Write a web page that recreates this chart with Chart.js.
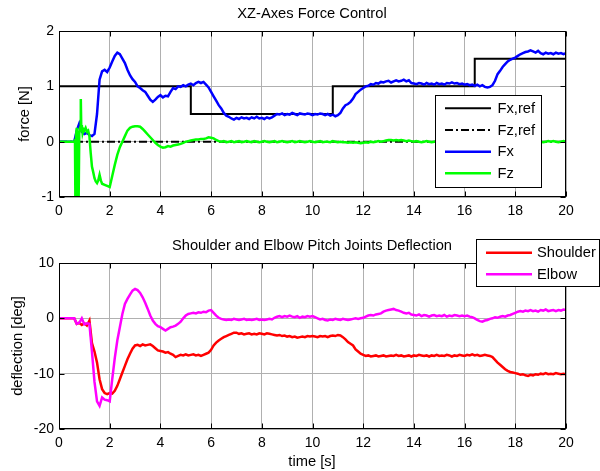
<!DOCTYPE html>
<html><head><meta charset="utf-8">
<script src="https://cdn.jsdelivr.net/npm/chart.js@4"></script>
<style>
html,body{margin:0;padding:0;background:#fff;}
#wrap{position:relative;width:600px;height:471px;overflow:hidden;}
canvas{position:absolute;left:0;}
</style></head><body>
<div id="wrap">
<canvas id="c1" width="600" height="235" style="top:0px"></canvas>
<canvas id="c2" width="600" height="236" style="top:235px"></canvas>
</div>
<script>
// ---------- data ----------
// sampling clock 0.0 ... 20.0 s (0.1 s)
const time = Array.from({length:201}, (_, i) => i / 10);

// reference steps [t, value]
const fxRefT = [0, 5.2, 5.2, 10.8, 10.8, 16.4, 16.4, 20];
const fxRefV = [1, 1, 0.5, 0.5, 1, 1, 1.5, 1.5];
const fzRefT = [0, 20];
const fzRefV = [0, 0];

const fx = [
 0,0,0,0,0,0,0,0.2,0.33,0.18,
 0.14,0.16,0.12,0.1,0.14,0.5,1.12,1.27,1.3,1.26,
 1.34,1.45,1.55,1.61,1.58,1.5,1.42,1.3,1.2,1.13,
 1.08,1.0,0.97,0.93,0.9,0.83,0.76,0.72,0.76,0.81,
 0.84,0.8,0.83,0.82,0.9,0.97,0.95,1.0,0.99,1.02,
 1.0,1.03,1.05,1.02,1.06,1.08,1.06,1.08,1.03,0.98,
 0.9,0.82,0.74,0.66,0.6,0.52,0.47,0.45,0.42,0.4,
 0.43,0.41,0.44,0.42,0.43,0.41,0.44,0.42,0.45,0.42,
 0.43,0.41,0.44,0.42,0.44,0.47,0.5,0.49,0.51,0.48,
 0.5,0.49,0.52,0.5,0.48,0.51,0.5,0.49,0.51,0.5,
 0.48,0.5,0.49,0.51,0.5,0.48,0.5,0.47,0.49,0.46,
 0.48,0.52,0.6,0.66,0.68,0.72,0.78,0.86,0.9,0.94,
 0.97,1.0,1.01,1.04,1.03,1.06,1.05,1.08,1.07,1.09,
 1.1,1.07,1.09,1.11,1.09,1.1,1.12,1.09,1.11,1.06,
 1.05,1.04,1.06,1.05,1.03,1.06,1.04,1.05,1.03,1.06,
 1.04,1.05,1.03,1.06,1.05,1.07,1.05,1.06,1.04,1.05,
 1.03,1.04,1.02,1.03,1.01,1.03,1.0,1.02,0.99,0.98,
 0.99,1.02,1.1,1.22,1.28,1.35,1.4,1.45,1.48,1.5,
 1.52,1.55,1.58,1.6,1.62,1.63,1.65,1.63,1.61,1.64,
 1.6,1.58,1.61,1.59,1.6,1.58,1.61,1.59,1.6,1.58,
 1.6
];

// Fz: dense samples during the impact (0 - 2.0 s), then 0.1 s samples from 2.1 s
const fzEarlyT = [0,0.1,0.2,0.3,0.4,0.5,0.6,0.63,0.65,0.67,0.7,0.73,0.77,0.8,0.83,0.86,0.88,0.9,0.93,0.97,
 1.0,1.05,1.1,1.15,1.2,1.25,1.3,1.35,1.4,1.45,1.5,1.55,1.6,1.65,1.7,1.8,1.9,2.0];
const fzEarly = [0,0,0,0,0,0,0,0.05,-1.3,0.1,0.25,0.1,-1.3,0.15,0.25,0.77,0.2,0.3,0.15,0.22,
 0.2,0.25,0.18,0.2,0.1,-0.2,-0.45,-0.55,-0.66,-0.72,-0.75,-0.7,-0.6,-0.7,-0.76,-0.78,-0.8,-0.82];
const fzLate = [
 -0.62,-0.42,-0.24,-0.1,0.0,0.1,0.2,0.25,0.27,0.28,
 0.28,0.27,0.23,0.18,0.13,0.08,0.03,-0.02,-0.06,-0.09,
 -0.11,-0.1,-0.08,-0.09,-0.07,-0.06,-0.05,-0.04,-0.02,0.0,
 0.01,0.02,0.03,0.04,0.04,0.05,0.05,0.06,0.08,0.07,
 0.06,0.03,0.01,0.0,0.01,-0.01,0.0,0.01,-0.01,0.0,
 0.01,-0.01,0.0,0.01,0.0,-0.01,0.01,0.0,-0.01,0.0,
 0.01,0.0,-0.01,0.0,0.01,-0.01,0.0,0.01,0.0,-0.01,
 0.0,0.01,-0.01,0.0,0.01,0.0,-0.01,0.0,0.01,0.0,
 -0.01,0.0,0.01,-0.01,0.0,0.0,-0.01,0.01,0.0,-0.01,
 0.0,-0.01,-0.01,-0.02,-0.01,-0.02,-0.01,-0.02,-0.03,-0.02,
 -0.01,-0.02,0.0,-0.01,0.0,0.01,0.0,0.01,0.02,0.03,
 0.03,0.02,0.03,0.02,0.03,0.02,0.01,0.02,0.01,0.0,
 0.01,0.0,-0.01,0.0,0.01,0.0,-0.01,0.0,0.01,0.0,
 -0.01,0.0,0.01,0.0,-0.01,0.01,0.0,-0.01,0.0,0.01,
 0.0,-0.01,-0.01,-0.02,-0.03,-0.02,-0.01,0.0,-0.01,0.0,
 0.01,0.0,-0.01,0.0,0.01,0.0,-0.01,0.0,0.01,0.0,
 -0.01,0.0,0.01,0.0,-0.01,0.0,0.01,0.0,0.01,0.0,
 -0.01,0.0,0.01,0.0,0.01,0.0,-0.01,0.0,0.01,0.0
];

const shoulder = [
 0,0,0,0,0,0,0,-1.0,-0.8,-1.2,
 -0.9,-1.3,-0.4,-4.5,-6.0,-8.0,-11.0,-12.8,-13.5,-13.7,
 -13.5,-13.6,-13.1,-12.2,-11.0,-9.8,-8.6,-7.4,-6.4,-5.5,
 -4.9,-4.8,-5.0,-4.7,-4.9,-4.8,-4.7,-5.0,-5.4,-5.8,
 -5.9,-6.0,-6.2,-6.1,-6.4,-6.6,-7.0,-6.8,-6.6,-6.7,
 -6.5,-6.7,-6.6,-6.5,-6.7,-6.6,-6.8,-6.6,-6.4,-6.2,
 -5.7,-4.9,-4.4,-4.0,-3.7,-3.4,-3.2,-3.0,-2.8,-2.6,
 -2.6,-2.8,-2.7,-2.9,-2.8,-2.7,-2.9,-2.8,-2.9,-2.7,
 -2.8,-2.9,-2.7,-2.8,-2.9,-3.0,-3.1,-3.0,-3.2,-3.1,
 -3.3,-3.2,-3.4,-3.3,-3.5,-3.4,-3.3,-3.4,-3.2,-3.3,
 -3.2,-3.3,-3.4,-3.2,-3.3,-3.2,-3.4,-3.2,-3.1,-3.2,
 -3.0,-3.1,-3.4,-3.8,-4.3,-4.6,-4.9,-5.6,-6.0,-6.4,
 -6.6,-6.8,-6.7,-6.9,-6.8,-6.7,-6.9,-6.8,-6.7,-6.9,
 -6.8,-6.7,-6.8,-6.6,-6.8,-6.7,-6.9,-6.8,-6.7,-6.9,
 -6.7,-6.8,-6.6,-6.7,-6.8,-6.7,-6.9,-6.7,-6.8,-6.6,
 -6.8,-6.7,-6.8,-6.6,-6.7,-6.9,-6.7,-6.8,-6.6,-6.7,
 -6.8,-6.6,-6.7,-6.5,-6.7,-6.6,-6.8,-6.7,-6.6,-6.7,
 -6.8,-7.0,-7.5,-8.0,-8.4,-8.8,-9.2,-9.5,-9.7,-9.8,
 -9.9,-10.0,-10.2,-10.1,-10.3,-10.4,-10.2,-10.3,-10.1,-10.2,
 -10.0,-10.1,-9.9,-10.1,-10.0,-10.1,-9.9,-10.0,-10.1,-10.0,
 -10.1
];

const elbow = [
 0,0,0,0,0,0,0,-1.0,-0.8,0.0,
 -1.1,-0.9,-1.0,-6.0,-11.5,-15.0,-15.8,-14.3,-14.7,-14.8,
 -15.0,-11.0,-7.2,-4.0,-1.6,0.8,2.6,3.5,4.3,5.0,
 5.3,5.1,4.6,3.8,2.8,1.7,0.5,-0.4,-1.0,-1.4,
 -1.6,-1.9,-2.2,-1.9,-1.6,-1.5,-1.3,-1.0,-0.6,0.0,
 0.5,0.8,0.9,1.0,0.9,1.1,1.0,1.2,1.1,1.4,
 1.5,1.0,0.5,0.1,-0.1,-0.2,-0.3,-0.2,-0.3,-0.1,
 -0.2,-0.3,-0.2,-0.1,-0.3,-0.2,-0.3,-0.2,-0.1,-0.3,
 -0.2,-0.3,-0.2,-0.1,-0.2,0.1,0.3,0.4,0.2,0.4,
 0.3,0.5,0.3,0.2,0.4,0.1,0.3,0.2,0.4,0.3,
 0.4,0.2,0.0,-0.2,-0.1,-0.3,-0.4,-0.2,-0.3,-0.1,
 -0.2,-0.3,-0.1,-0.2,-0.3,-0.2,-0.1,0.0,-0.1,0.0,
 0.1,0.3,0.5,0.6,0.5,0.7,0.8,0.9,1.2,1.4,
 1.5,1.6,1.7,1.5,1.4,1.2,1.0,0.9,1.0,0.7,
 0.6,0.5,0.7,0.4,0.6,0.5,0.3,0.5,0.6,0.4,
 0.5,0.4,0.6,0.3,0.5,0.4,0.6,0.5,0.4,0.5,
 0.4,0.5,0.3,0.2,0.0,-0.3,-0.5,-0.6,-0.4,-0.3,
 -0.1,0.0,0.2,0.1,0.3,0.4,0.3,0.5,0.6,0.8,
 1.0,1.2,1.3,1.2,1.4,1.3,1.5,1.3,1.4,1.2,
 1.5,1.4,1.6,1.3,1.4,1.5,1.3,1.5,1.4,1.6,
 1.5
];

// ---------- helpers ----------
const FONT = "'Liberation Sans', Arial, Helvetica, sans-serif";
const zip = (xs, ys) => ys.map((v, i) => ({x: xs[i], y: v}));
const fzT = fzEarlyT.concat(time.slice(21));
const fz = fzEarly.concat(fzLate);

function decor(cfg){
  return {
    id: 'decor',
    afterDraw(chart){
      const ctx = chart.ctx, a = chart.chartArea, xs = chart.scales.x, ys = chart.scales.y;
      ctx.save();
      ctx.strokeStyle = '#000'; ctx.lineWidth = 1; ctx.setLineDash([]);
      const L = Math.round(a.left) + 0.5, R = Math.round(a.right) - 0.5;
      const T = Math.round(a.top) + 0.5, B = Math.round(a.bottom) - 0.5;
      ctx.strokeRect(L, T, R - L, B - T);
      ctx.beginPath();
      xs.ticks.forEach(t => {
        const p = Math.round(xs.getPixelForValue(t.value)) + 0.5;
        ctx.moveTo(p, B); ctx.lineTo(p, B - 5);
        ctx.moveTo(p, T); ctx.lineTo(p, T + 5);
      });
      ys.ticks.forEach(t => {
        const p = Math.round(ys.getPixelForValue(t.value)) + 0.5;
        ctx.moveTo(L, p); ctx.lineTo(L + 5, p);
        ctx.moveTo(R, p); ctx.lineTo(R - 5, p);
      });
      ctx.stroke();

      ctx.fillStyle = '#000'; ctx.textAlign = 'center'; ctx.textBaseline = 'middle';
      ctx.font = '14.7px ' + FONT;
      ctx.fillText(cfg.title, cfg.titleX, cfg.titleY);
      if (cfg.xlabel) ctx.fillText(cfg.xlabel, cfg.titleX, cfg.xlabelY);
      ctx.save();
      ctx.translate(cfg.ylabelX, (a.top + a.bottom) / 2);
      ctx.rotate(-Math.PI / 2);
      ctx.fillText(cfg.ylabel, 0, 0);
      ctx.restore();

      // legend
      const lg = cfg.legend;
      ctx.fillStyle = '#fff';
      ctx.fillRect(lg.x0, lg.y0, lg.x1 - lg.x0, lg.y1 - lg.y0);
      ctx.strokeStyle = '#000'; ctx.lineWidth = 1;
      ctx.strokeRect(lg.x0 + 0.5, lg.y0 + 0.5, lg.x1 - lg.x0 - 1, lg.y1 - lg.y0 - 1);
      ctx.textAlign = 'left';
      chart.data.datasets.forEach((ds, i) => {
        const y = lg.rows[i];
        ctx.strokeStyle = ds.borderColor; ctx.lineWidth = ds.borderWidth;
        ctx.setLineDash(ds.borderDash || []);
        ctx.beginPath(); ctx.moveTo(lg.lx0, y); ctx.lineTo(lg.lx1, y); ctx.stroke();
        ctx.setLineDash([]);
        ctx.fillStyle = '#000';
        ctx.fillText(ds.label, lg.tx, y + 0.5);
      });
      ctx.restore();
    }
  };
}

function axes(yMin, yMax, yStep, xH){
  const tickFont = {family: FONT, size: 14};
  return {
    x: {type: 'linear', min: 0, max: 20,
        ticks: {stepSize: 2, font: tickFont, color: '#000', padding: 6, maxRotation: 0, autoSkip: false},
        grid: {color: '#b0b0b0', lineWidth: 1, drawTicks: false},
        border: {display: false},
        afterFit(s){ s.height = xH; }},
    y: {type: 'linear', min: yMin, max: yMax,
        ticks: {stepSize: yStep, font: tickFont, color: '#000', padding: 5},
        grid: {color: '#b0b0b0', lineWidth: 1, drawTicks: false},
        border: {display: false},
        afterFit(s){ s.width = 59; }}
  };
}

const common = {
  responsive: false, animation: false, devicePixelRatio: 1,
  plugins: {legend: {display: false}, tooltip: {enabled: false}, title: {display: false}},
  elements: {point: {radius: 0}, line: {tension: 0}},
  events: []
};

// ---------- top chart ----------
new Chart(document.getElementById('c1'), {
  type: 'line',
  data: {datasets: [
    {label: 'Fx,ref', data: zip(fxRefT, fxRefV), borderColor: '#000000', borderWidth: 2, order: 3, clip: 0},
    {label: 'Fz,ref', data: zip(fzRefT, fzRefV), borderColor: '#000000', borderWidth: 2, borderDash: [8,3,2,3], order: 2, clip: 0},
    {label: 'Fx', data: zip(time, fx), borderColor: '#0000ff', borderWidth: 2.5, order: 1, clip: 0},
    {label: 'Fz', data: zip(fzT, fz), borderColor: '#00ff00', borderWidth: 2.5, order: 0, clip: 0}
  ]},
  options: Object.assign({}, common, {
    layout: {padding: {left: 0, right: 34, top: 31, bottom: 0}},
    scales: axes(-1, 2, 1, 38)
  }),
  plugins: [decor({
    title: 'XZ-Axes Force Control', titleX: 312, titleY: 13.5,
    ylabel: 'force [N]', ylabelX: 25,
    legend: {x0: 435, x1: 542, y0: 95, y1: 188, rows: [108.3, 130, 151.7, 173.3], lx0: 445, lx1: 491, tx: 497.5}
  })]
});

// ---------- bottom chart ----------
new Chart(document.getElementById('c2'), {
  type: 'line',
  data: {datasets: [
    {label: 'Shoulder', data: zip(time, shoulder), borderColor: '#ff0000', borderWidth: 2.5, order: 1, clip: 0},
    {label: 'Elbow', data: zip(time, elbow), borderColor: '#ff00ff', borderWidth: 2.5, order: 0, clip: 0}
  ]},
  options: Object.assign({}, common, {
    layout: {padding: {left: 0, right: 34, top: 28, bottom: 0}},
    scales: axes(-20, 10, 10, 42)
  }),
  plugins: [decor({
    title: 'Shoulder and Elbow Pitch Joints Deflection', titleX: 312, titleY: 10.5,
    xlabel: 'time [s]', xlabelY: 227,
    ylabel: 'deflection [deg]', ylabelX: 17.5,
    legend: {x0: 476, x1: 600, y0: 4, y1: 52, rows: [17.7, 39.3], lx0: 486, lx1: 532, tx: 537}
  })]
});
</script>
</body></html>
